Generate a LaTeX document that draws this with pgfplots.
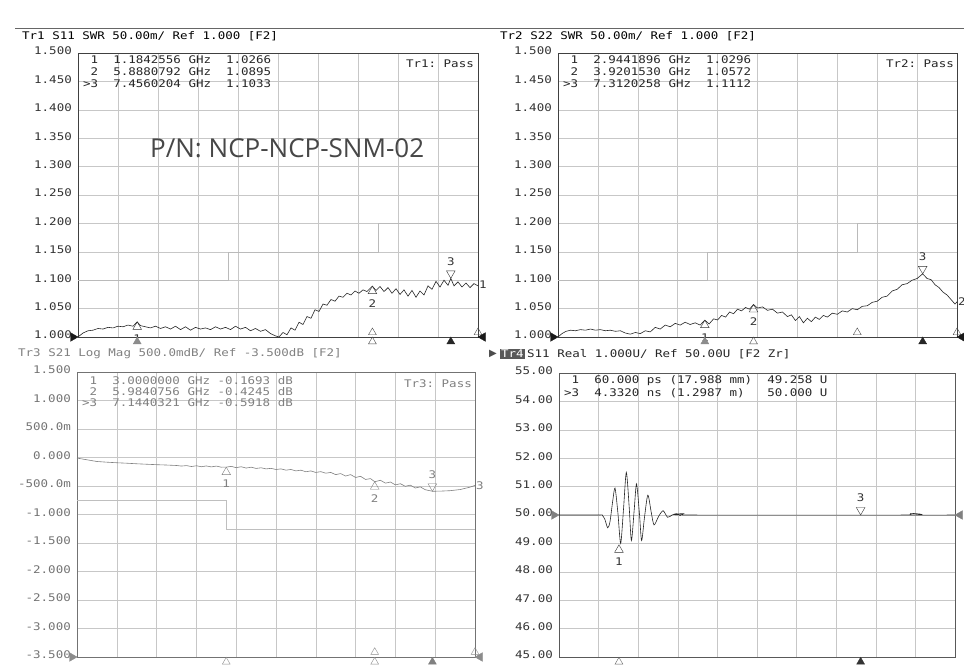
\documentclass[border=0pt]{standalone}
\usepackage{fontspec}
\setmainfont{DejaVu Sans Mono}
\setmonofont{DejaVu Sans Mono}
\newfontfamily\pnfont{Open Sans}
\newfontfamily\djs{DejaVu Sans}
\usepackage{graphicx}
\usepackage{pgfplots}
\pgfplotsset{compat=1.18}

% VNA screen font: mono, a little wider than DejaVu
\newcommand\vt[1]{\scalebox{1.19}[1]{\fontsize{10.5}{12}\selectfont\ttfamily #1}}

\pgfplotsset{
  vna/.style={
    scale only axis, clip=false, anchor=south west,
    grid=major, grid style={black!22, line width=0.5pt},
    major tick length=0pt,
    xticklabels={},
    axis line style={black!75, line width=0.8pt},
    yticklabel style={yshift=2pt, inner sep=0pt, xshift=-6pt},
  },
  trace/.style={black!85, line width=0.6pt},
  limit/.style={const plot, black!27, line width=0.5pt},
  mkup/.style={only marks, mark=triangle, mark size=5pt,
    mark options={fill=white, draw=#1, yshift=-5pt}},
  mkdn/.style={only marks, mark=triangle, mark size=5pt,
    mark options={fill=white, draw=#1, yshift=5pt, rotate=180}},
  ind/.style={only marks, mark=triangle*, mark size=4.5pt,
    mark options={fill=#1, draw=#1}},
  indo/.style={only marks, mark=triangle, mark size=4.5pt,
    mark options={fill=white, draw=#1}},
  refl/.style={only marks, mark=triangle*, mark size=5pt,
    mark options={fill=#1, draw=#1, xshift=-5pt, rotate=-90}},
  refr/.style={only marks, mark=triangle*, mark size=5pt,
    mark options={fill=#1, draw=#1, xshift=5pt, rotate=90}},
}

\begin{document}
\begin{tikzpicture}
\useasboundingbox (0pt,-670pt) rectangle (964pt,0pt);
\fill[white] (0pt,-670pt) rectangle (964pt,0pt);
\draw[black!60, line width=0.8pt] (15pt,-28pt) -- (964pt,-28pt);

% ---------------- Tr1 S11 SWR ----------------
\begin{axis}[vna, at={(78pt,-337pt)}, width=400pt, height=284pt,
  xmin=0, xmax=8, ymin=1, ymax=1.5,
  xtick={0,0.8,1.6,2.4,3.2,4,4.8,5.6,6.4,7.2,8},
  ytick={1,1.05,1.1,1.15,1.2,1.25,1.3,1.35,1.4,1.45,1.5},
  yticklabels={\vt{1.000},\vt{1.050},\vt{1.100},\vt{1.150},\vt{1.200},\vt{1.250},\vt{1.300},\vt{1.350},\vt{1.400},\vt{1.450},\vt{1.500}},
  yticklabel style={text=black!80}]
\addplot[limit] coordinates {(0,1.10)(3,1.15)(6,1.20)(8,1.20)};
\addplot[trace] coordinates {
 (0.00,1.000)(0.10,1.007)(0.20,1.011)(0.30,1.012)(0.40,1.015)(0.50,1.014)
 (0.60,1.017)(0.70,1.016)(0.80,1.019)(0.90,1.018)(1.00,1.021)(1.10,1.019)
 (1.184,1.0266)(1.25,1.020)(1.35,1.018)(1.45,1.016)(1.55,1.019)(1.65,1.015)
 (1.75,1.018)(1.85,1.014)(1.95,1.019)(2.05,1.013)(2.15,1.018)(2.25,1.012)
 (2.35,1.017)(2.45,1.014)(2.55,1.016)(2.65,1.013)(2.75,1.018)(2.85,1.014)
 (2.95,1.017)(3.05,1.013)(3.15,1.019)(3.25,1.014)(3.35,1.017)(3.45,1.011)
 (3.55,1.015)(3.65,1.010)(3.75,1.013)(3.85,1.006)(3.95,1.002)(4.02,1.000)
 (4.10,1.008)(4.18,1.004)(4.26,1.016)(4.34,1.012)(4.42,1.026)(4.50,1.022)
 (4.58,1.036)(4.66,1.033)(4.74,1.048)(4.82,1.045)(4.90,1.058)(4.98,1.056)
 (5.06,1.066)(5.14,1.063)(5.22,1.072)(5.30,1.070)(5.38,1.077)(5.46,1.074)
 (5.54,1.081)(5.62,1.077)(5.70,1.083)(5.78,1.080)(5.888,1.0895)(5.96,1.082)
 (6.04,1.089)(6.12,1.080)(6.20,1.087)(6.28,1.077)(6.36,1.085)(6.44,1.075)
 (6.52,1.083)(6.60,1.072)(6.68,1.082)(6.76,1.070)(6.84,1.081)(6.92,1.074)
 (7.00,1.090)(7.08,1.084)(7.16,1.098)(7.24,1.088)(7.32,1.100)(7.40,1.091)
 (7.456,1.1033)(7.52,1.090)(7.60,1.097)(7.68,1.088)(7.76,1.095)(7.84,1.087)
 (7.92,1.094)(8.00,1.090)};
\addplot[mkup=black!80] coordinates {(1.184,1.0266)(5.888,1.0895)};
\addplot[mkdn=black!80] coordinates {(7.456,1.1033)};
\addplot[ind=black!45] coordinates {(1.184,0.992)};
\addplot[indo=black!70] coordinates {(5.888,1.008)(5.888,0.992)(8,1.008)};
\addplot[ind=black!85] coordinates {(7.456,0.992)};
\addplot[refl=black!90] coordinates {(0,1)};
\addplot[refr=black!90] coordinates {(8,1)};
\node[text=black!80] at (axis cs:1.184,1.0266) [yshift=-17pt] {\vt{1}};
\node[text=black!80] at (axis cs:5.888,1.0895) [yshift=-17pt] {\vt{2}};
\node[text=black!80] at (axis cs:7.456,1.1033) [yshift=17pt] {\vt{3}};
\node[text=black!80, anchor=west, inner sep=1pt] at (axis cs:8,1.092) {\vt{1}};
\end{axis}

% ---------------- Tr2 S22 SWR ----------------
\begin{axis}[vna, at={(558pt,-337pt)}, width=399pt, height=284pt,
  xmin=0, xmax=8, ymin=1, ymax=1.5,
  xtick={0,0.8,1.6,2.4,3.2,4,4.8,5.6,6.4,7.2,8},
  ytick={1,1.05,1.1,1.15,1.2,1.25,1.3,1.35,1.4,1.45,1.5},
  yticklabels={\vt{1.000},\vt{1.050},\vt{1.100},\vt{1.150},\vt{1.200},\vt{1.250},\vt{1.300},\vt{1.350},\vt{1.400},\vt{1.450},\vt{1.500}},
  yticklabel style={text=black!80}]
\addplot[limit] coordinates {(0,1.10)(3,1.15)(6,1.20)(8,1.20)};
\addplot[trace] coordinates {
 (0.00,1.000)(0.08,1.006)(0.16,1.010)(0.25,1.012)(0.35,1.011)(0.45,1.013)
 (0.55,1.012)(0.65,1.014)(0.75,1.012)(0.85,1.013)(0.95,1.011)(1.05,1.012)
 (1.15,1.010)(1.25,1.011)(1.35,1.007)(1.45,1.005)(1.55,1.008)(1.65,1.006)
 (1.75,1.011)(1.85,1.009)(1.95,1.017)(2.05,1.014)(2.15,1.021)(2.25,1.018)
 (2.35,1.024)(2.45,1.021)(2.55,1.026)(2.65,1.022)(2.75,1.025)(2.85,1.021)
 (2.944,1.0296)(3.03,1.023)(3.12,1.032)(3.20,1.030)(3.28,1.038)(3.36,1.035)
 (3.44,1.044)(3.52,1.041)(3.60,1.049)(3.68,1.046)(3.76,1.052)(3.84,1.049)
 (3.92,1.0572)(4.00,1.051)(4.10,1.053)(4.20,1.047)(4.30,1.049)(4.40,1.042)
 (4.50,1.044)(4.60,1.036)(4.68,1.039)(4.76,1.029)(4.84,1.036)(4.92,1.025)
 (5.00,1.033)(5.08,1.027)(5.16,1.035)(5.24,1.031)(5.32,1.038)(5.40,1.035)
 (5.50,1.042)(5.60,1.040)(5.70,1.046)(5.80,1.044)(5.90,1.050)(6.00,1.048)
 (6.10,1.054)(6.20,1.055)(6.30,1.061)(6.40,1.063)(6.50,1.070)(6.60,1.072)
 (6.70,1.081)(6.80,1.084)(6.90,1.092)(7.00,1.094)(7.10,1.100)(7.20,1.103)
 (7.312,1.1112)(7.40,1.103)(7.48,1.101)(7.56,1.092)(7.64,1.087)(7.72,1.079)
 (7.80,1.074)(7.88,1.066)(7.96,1.058)(8.00,1.062)};
\addplot[mkup=black!80] coordinates {(2.944,1.0296)(3.92,1.0572)};
\addplot[mkdn=black!80] coordinates {(7.312,1.1112)};
\addplot[ind=black!45] coordinates {(2.944,0.992)};
\addplot[indo=black!70] coordinates {(3.92,0.992)(6.0,1.008)(8,1.008)};
\addplot[ind=black!85] coordinates {(7.312,0.992)};
\addplot[refl=black!90] coordinates {(0,1)};
\addplot[refr=black!90] coordinates {(8,1)};
\node[text=black!80] at (axis cs:2.944,1.0296) [yshift=-17pt] {\vt{1}};
\node[text=black!80] at (axis cs:3.92,1.0572) [yshift=-17pt] {\vt{2}};
\node[text=black!80] at (axis cs:7.312,1.1112) [yshift=17pt] {\vt{3}};
\node[text=black!80, anchor=west, inner sep=1pt] at (axis cs:8,1.062) {\vt{2}};
\end{axis}

% ---------------- Tr3 S21 Log Mag ----------------
\begin{axis}[vna, at={(77pt,-657pt)}, width=398pt, height=285pt,
  xmin=0, xmax=8, ymin=-3.5, ymax=1.5,
  axis line style={black!55, line width=0.8pt},
  xtick={0,0.8,1.6,2.4,3.2,4,4.8,5.6,6.4,7.2,8},
  ytick={-3.5,-3,-2.5,-2,-1.5,-1,-0.5,0,0.5,1,1.5},
  yticklabels={\vt{-3.500},\vt{-3.000},\vt{-2.500},\vt{-2.000},\vt{-1.500},\vt{-1.000},\vt{-500.0m},\vt{0.000},\vt{500.0m},\vt{1.000},\vt{1.500}},
  yticklabel style={text=black!55}]
\addplot[limit, black!25] coordinates {(0,-0.75)(3,-1.25)(8,-1.25)};
\addplot[trace, black!50] coordinates {
 (0.00,-0.010)(0.20,-0.040)(0.40,-0.070)(0.60,-0.082)(0.80,-0.092)(1.00,-0.100)
 (1.20,-0.110)(1.40,-0.118)(1.60,-0.126)(1.80,-0.132)(2.00,-0.140)(2.10,-0.150)
 (2.20,-0.142)(2.30,-0.158)(2.40,-0.145)(2.50,-0.162)(2.60,-0.148)(2.70,-0.165)
 (2.80,-0.150)(2.90,-0.170)(3.00,-0.169)(3.10,-0.155)(3.20,-0.178)(3.30,-0.162)
 (3.40,-0.185)(3.50,-0.170)(3.60,-0.192)(3.70,-0.180)(3.80,-0.200)(3.90,-0.190)
 (4.00,-0.210)(4.10,-0.200)(4.20,-0.222)(4.30,-0.210)(4.40,-0.235)(4.50,-0.222)
 (4.60,-0.250)(4.70,-0.235)(4.80,-0.262)(4.90,-0.248)(5.00,-0.275)(5.10,-0.262)
 (5.20,-0.300)(5.30,-0.282)(5.40,-0.325)(5.50,-0.300)(5.60,-0.350)(5.70,-0.330)
 (5.80,-0.385)(5.90,-0.370)(5.984,-0.4245)(6.10,-0.400)(6.20,-0.450)(6.30,-0.430)
 (6.40,-0.480)(6.50,-0.460)(6.60,-0.505)(6.70,-0.485)(6.80,-0.535)(6.90,-0.515)
 (7.00,-0.565)(7.144,-0.592)(7.30,-0.590)(7.50,-0.582)(7.70,-0.562)(7.90,-0.520)
 (8.00,-0.490)};
\addplot[mkup=black!50] coordinates {(3.0,-0.1693)(5.984,-0.4245)};
\addplot[mkdn=black!50] coordinates {(7.144,-0.5918)};
\addplot[indo=black!45] coordinates {(3.0,-3.585)(5.984,-3.585)(5.984,-3.415)(8,-3.415)};
\addplot[ind=black!50] coordinates {(7.144,-3.585)};
\addplot[refl=black!45] coordinates {(0,-3.5)};
\addplot[refr=black!45] coordinates {(8,-3.5)};
\node[text=black!50] at (axis cs:3.0,-0.1693) [yshift=-17pt] {\vt{1}};
\node[text=black!50] at (axis cs:5.984,-0.4245) [yshift=-17pt] {\vt{2}};
\node[text=black!50] at (axis cs:7.144,-0.5918) [yshift=17pt] {\vt{3}};
\node[text=black!50, anchor=west, inner sep=1pt] at (axis cs:8,-0.49) {\vt{3}};
\end{axis}

% ---------------- Tr4 S11 Real (time domain) ----------------
\begin{axis}[vna, at={(559pt,-657pt)}, width=396pt, height=284pt,
  xmin=-1, xmax=6, ymin=45, ymax=55,
  axis line style={black!65, line width=0.8pt},
  xtick={-1,-0.3,0.4,1.1,1.8,2.5,3.2,3.9,4.6,5.3,6},
  ytick={45,46,47,48,49,50,51,52,53,54,55},
  yticklabels={\vt{45.00},\vt{46.00},\vt{47.00},\vt{48.00},\vt{49.00},\vt{50.00},\vt{51.00},\vt{52.00},\vt{53.00},\vt{54.00},\vt{55.00}},
  yticklabel style={text=black!80}]
\addplot[trace, smooth, tension=0.45] coordinates {
 (-1,50)(-0.30,50)(-0.24,50.0)(-0.19,49.85)(-0.14,49.55)(-0.10,49.75)
 (-0.05,50.5)(-0.01,50.95)(0.04,50.1)(0.09,49.0)(0.14,50.2)(0.19,51.5)
 (0.24,50.3)(0.28,49.1)(0.33,50.2)(0.37,51.1)(0.42,50.1)(0.46,49.1)
 (0.51,49.9)(0.57,50.7)(0.63,50.1)(0.68,49.65)(0.76,49.95)(0.84,50.15)
 (0.92,49.92)(1.00,50.0)(1.08,50.05)(1.14,49.98)(1.20,50.05)(1.27,50.0)
 (5.18,50.0)(5.22,50.06)(5.26,50.0)(6,50)};
\addplot[mkup=black!80] coordinates {(0.06,48.95)};
\addplot[mkdn=black!80] coordinates {(4.332,50.0)};
\addplot[indo=black!60] coordinates {(0.06,44.83)};
\addplot[ind=black!80] coordinates {(4.332,44.83)};
\addplot[refl=black!50] coordinates {(-1,50)};
\addplot[refr=black!50] coordinates {(6,50)};
\node[text=black!80] at (axis cs:0.06,48.95) [yshift=-17pt] {\vt{1}};
\node[text=black!80] at (axis cs:4.332,50) [yshift=17pt] {\vt{3}};
\end{axis}

% ---------------- screen texts ----------------
\node[anchor=west, inner sep=0pt, text=black] at (22pt,-36pt) {\vt{Tr1~S11~SWR~50.00m/~Ref~1.000~[F2]}};
\node[anchor=west, inner sep=0pt, text=black] at (500pt,-36pt) {\vt{Tr2~S22~SWR~50.00m/~Ref~1.000~[F2]}};
\node[anchor=west, inner sep=0pt, text=black!50] at (18pt,-354pt) {\vt{Tr3~S21~Log~Mag~500.0mdB/~Ref~-3.500dB~[F2]}};
\node[anchor=west, inner sep=0pt, text=black!70] at (489pt,-354pt) {\djs\fontsize{10}{12}\selectfont ▶};
\node[anchor=west, inner sep=1pt, fill=black!65, text=white] at (500pt,-354pt) {\vt{Tr4}};
\node[anchor=west, inner sep=0pt, text=black!85] at (527pt,-354pt) {\vt{S11~Real~1.000U/~Ref~50.00U~[F2~Zr]}};

\begin{scope}[every node/.style={anchor=west, inner sep=0pt, text=black!85}]
\node at (83pt,-60pt)   {\vt{~1~~1.1842556~GHz~~1.0266}};
\node at (83pt,-72pt) {\vt{~2~~5.8880792~GHz~~1.0895}};
\node at (83pt,-84pt)   {\vt{>3~~7.4560204~GHz~~1.1033}};
\node at (563pt,-60pt)   {\vt{~1~~2.9441896~GHz~~1.0296}};
\node at (563pt,-72pt) {\vt{~2~~3.9201530~GHz~~1.0572}};
\node at (563pt,-84pt)   {\vt{>3~~7.3120258~GHz~~1.1112}};
\node at (564pt,-381pt) {\vt{~1~~60.000~ps~(17.988~mm)~~49.258~U}};
\node at (564pt,-393pt) {\vt{>3~~4.3320~ns~(1.2987~m)~~~50.000~U}};
\end{scope}
\begin{scope}[every node/.style={anchor=west, inner sep=0pt, text=black!50}]
\node at (82pt,-381pt) {\vt{~1~~3.0000000~GHz~-0.1693~dB}};
\node at (82pt,-392pt) {\vt{~2~~5.9840756~GHz~-0.4245~dB}};
\node at (82pt,-403pt) {\vt{>3~~7.1440321~GHz~-0.5918~dB}};
\end{scope}
\node[anchor=east, inner sep=0pt, text=black!85] at (474pt,-64pt) {\vt{Tr1:~Pass}};
\node[anchor=east, inner sep=0pt, text=black!85] at (954pt,-64pt) {\vt{Tr2:~Pass}};
\node[anchor=east, inner sep=0pt, text=black!50] at (472pt,-384pt) {\vt{Tr3:~Pass}};

\node[anchor=base west, inner sep=0pt, text=black!72] at (150pt,-157pt) {\pnfont\fontsize{26}{30}\selectfont P/N: NCP-NCP-SNM-02};
\end{tikzpicture}
\end{document}
